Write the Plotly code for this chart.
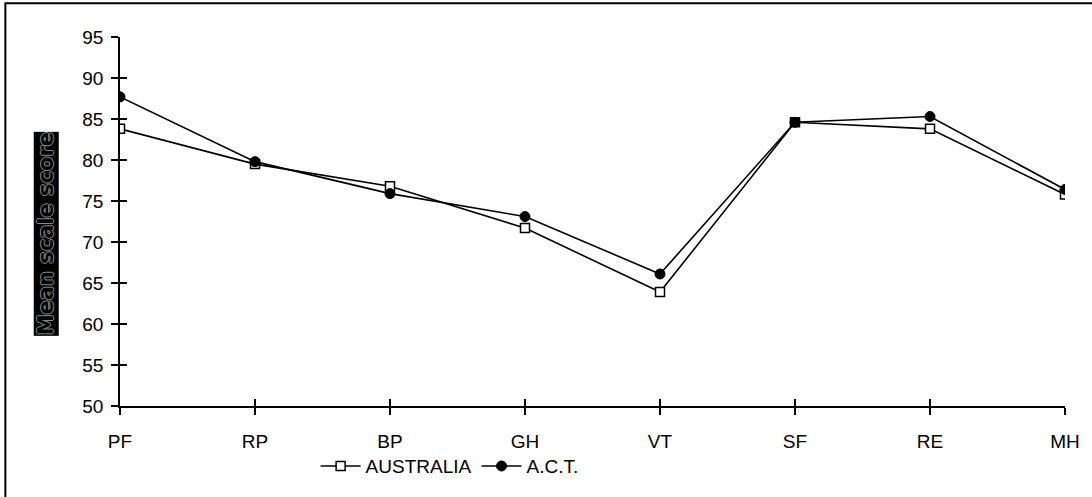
import plotly.graph_objects as go

categories = ["PF", "RP", "BP", "GH", "VT", "SF", "RE", "MH"]
australia = [83.8, 79.5, 76.8, 71.7, 63.9, 84.6, 83.8, 75.8]
act = [87.7, 79.8, 75.9, 73.1, 66.1, 84.6, 85.3, 76.4]
y_ticks = [50, 55, 60, 65, 70, 75, 80, 85, 90, 95]

FONT = "Liberation Sans, Arial, sans-serif"
xpos = list(range(len(categories)))

fig = go.Figure()
fig.add_trace(go.Scatter(
    x=xpos, y=australia, name="AUSTRALIA", mode="lines+markers",
    line=dict(color="black", width=1.6),
    marker=dict(symbol="square", size=9, color="white", line=dict(color="black", width=1.5)),
))
fig.add_trace(go.Scatter(
    x=xpos, y=act, name="A.C.T.", mode="lines+markers",
    line=dict(color="black", width=1.6),
    marker=dict(symbol="circle", size=10, color="black", line=dict(color="black", width=1)),
))
# invisible trace to activate inner-tick overlay axes
fig.add_trace(go.Scatter(x=[0], y=[50], xaxis="x2", yaxis="y2", mode="markers",
                         marker=dict(opacity=0), showlegend=False, hoverinfo="skip"))

fig.update_layout(
    width=1092, height=497,
    margin=dict(l=120, r=24, t=37, b=89),
    paper_bgcolor="white", plot_bgcolor="white",
    font=dict(family=FONT, size=19, color="black"),
    showlegend=True,
    legend=dict(orientation="h", x=0.207, xanchor="left", y=-0.163, yanchor="middle",
                font=dict(family=FONT, size=19, color="black"),
                itemwidth=40, bgcolor="rgba(0,0,0,0)"),
    xaxis=dict(range=[0, 7], tickvals=xpos, ticktext=categories,
               showgrid=False, zeroline=False, showline=True, linecolor="black", linewidth=1.6,
               ticks="outside", ticklen=7, tickwidth=1.6, tickcolor="black",
               ticklabelstandoff=10,
               tickfont=dict(family=FONT, size=19)),
    yaxis=dict(range=[50, 95], tickvals=y_ticks,
               showgrid=False, zeroline=False, showline=True, linecolor="black", linewidth=1.6,
               ticks="outside", ticklen=7, tickwidth=1.6, tickcolor="black",
               ticklabelstandoff=4,
               tickfont=dict(family=FONT, size=19)),
    xaxis2=dict(range=[0, 7], tickvals=xpos, overlaying="x", side="bottom",
                showticklabels=False, showgrid=False, zeroline=False, showline=False,
                ticks="inside", ticklen=7, tickwidth=1.6, tickcolor="black"),
    yaxis2=dict(range=[50, 95], tickvals=y_ticks, overlaying="y", side="left",
                showticklabels=False, showgrid=False, zeroline=False, showline=False,
                ticks="inside", ticklen=7, tickwidth=1.6, tickcolor="black"),
)

fig.add_annotation(
    text="<b>Mean scale score</b>", textangle=-90,
    xref="paper", yref="paper", x=-0.078, y=0.466, xanchor="center", yanchor="middle",
    showarrow=False, bgcolor="black", borderpad=0,
    font=dict(family="DejaVu Sans, sans-serif", size=21, color="black",
              shadow="-1px 0 #8a8a8a, 1px 0 #8a8a8a, 0 -1px #8a8a8a, 0 1px #8a8a8a"),
)

# outer frame
fig.add_shape(type="rect", xref="paper", yref="paper",
              x0=-0.1213, x1=1.05, y0=-0.3, y1=1.0916,
              line=dict(color="black", width=2), fillcolor="rgba(0,0,0,0)", layer="below")

fig.write_html("out.html")
